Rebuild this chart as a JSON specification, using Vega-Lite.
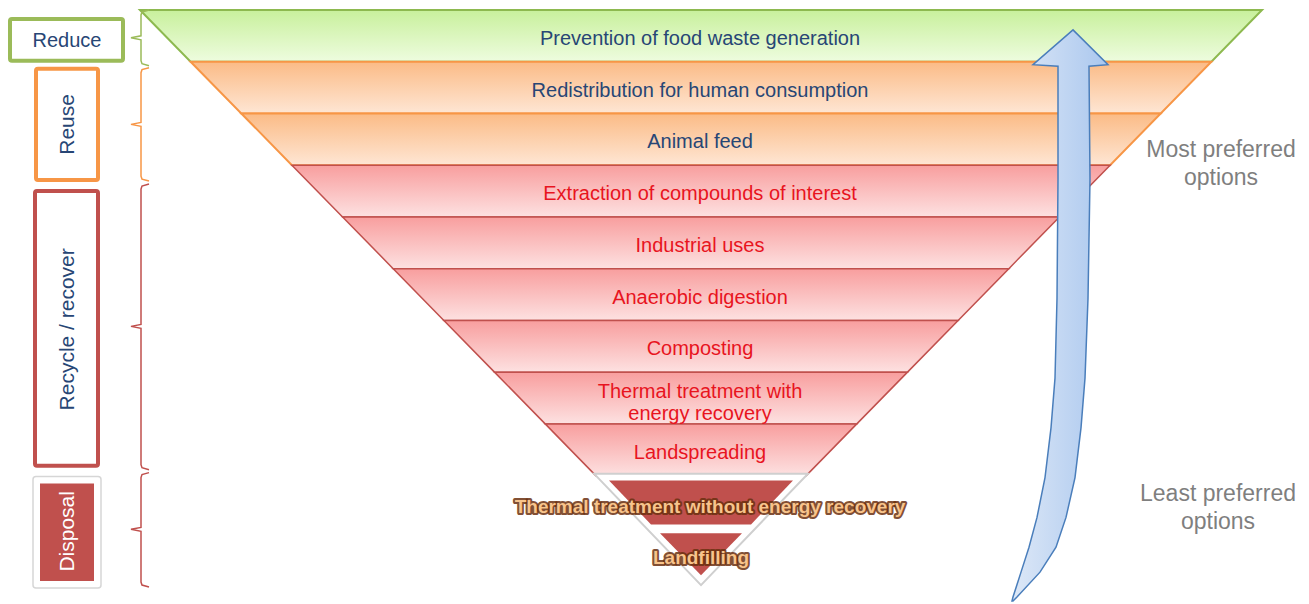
{
  "$schema": "https://vega.github.io/schema/vega-lite/v6.json",
  "width": 1309,
  "height": 604,
  "padding": 0,
  "autosize": {"type": "fit", "contains": "padding"},
  "background": "white",
  "config": {"view": {"stroke": null}, "text": {"font": "Liberation Sans"}},
  "datasets": {
    "bands": [
      {"band": "b1", "grp": "g", "y": 10, "xl": 140, "xr": 1262},
      {"band": "b1", "grp": "g", "y": 62, "xl": 190.6, "xr": 1211.4},
      {"band": "b2", "grp": "o", "y": 62, "xl": 190.6, "xr": 1211.4},
      {"band": "b2", "grp": "o", "y": 114, "xl": 241.3, "xr": 1160.7},
      {"band": "b3", "grp": "o", "y": 114, "xl": 241.3, "xr": 1160.7},
      {"band": "b3", "grp": "o", "y": 166, "xl": 291.9, "xr": 1110.1},
      {"band": "b4", "grp": "r", "y": 166, "xl": 291.9, "xr": 1110.1},
      {"band": "b4", "grp": "r", "y": 218, "xl": 342.6, "xr": 1059.4},
      {"band": "b5", "grp": "r", "y": 218, "xl": 342.6, "xr": 1059.4},
      {"band": "b5", "grp": "r", "y": 270, "xl": 393.2, "xr": 1008.8},
      {"band": "b6", "grp": "r", "y": 270, "xl": 393.2, "xr": 1008.8},
      {"band": "b6", "grp": "r", "y": 322, "xl": 443.9, "xr": 958.1},
      {"band": "b7", "grp": "r", "y": 322, "xl": 443.9, "xr": 958.1},
      {"band": "b7", "grp": "r", "y": 374, "xl": 494.5, "xr": 907.5},
      {"band": "b8", "grp": "r", "y": 374, "xl": 494.5, "xr": 907.5},
      {"band": "b8", "grp": "r", "y": 426, "xl": 545.2, "xr": 856.8},
      {"band": "b9", "grp": "r", "y": 426, "xl": 545.2, "xr": 856.8},
      {"band": "b9", "grp": "r", "y": 478, "xl": 595.8, "xr": 806.2}
    ],
    "disp": [
      {"part": "w", "y": 476, "xl": 594, "xr": 808},
      {"part": "w", "y": 588, "xl": 701, "xr": 701},
      {"part": "t", "y": 483, "xl": 609, "xr": 793},
      {"part": "t", "y": 527, "xl": 651, "xr": 751},
      {"part": "l", "y": 536, "xl": 660, "xr": 742},
      {"part": "l", "y": 578, "xl": 701, "xr": 701}
    ],
    "arrow": [
      {"y": 30, "xl": 1073, "xr": 1073},
      {"y": 65, "xl": 1033, "xr": 1108},
      {"y": 66.5, "xl": 1058, "xr": 1089},
      {"y": 180, "xl": 1058, "xr": 1090},
      {"y": 300, "xl": 1057, "xr": 1088},
      {"y": 380, "xl": 1055, "xr": 1085},
      {"y": 430, "xl": 1051, "xr": 1081},
      {"y": 480, "xl": 1045, "xr": 1075},
      {"y": 520, "xl": 1037, "xr": 1066},
      {"y": 550, "xl": 1029, "xr": 1056},
      {"y": 575, "xl": 1021, "xr": 1040},
      {"y": 600, "xl": 1013, "xr": 1017},
      {"y": 604, "xl": 1012, "xr": 1013}
    ],
    "labels": [
      {"t": "Prevention of food waste generation", "x": 700, "y": 39, "g": "n"},
      {"t": "Redistribution for human consumption", "x": 700, "y": 91, "g": "n"},
      {"t": "Animal feed", "x": 700, "y": 143, "g": "n"},
      {"t": "Extraction of compounds of interest", "x": 700, "y": 195, "g": "r"},
      {"t": "Industrial uses", "x": 700, "y": 247, "g": "r"},
      {"t": "Anaerobic digestion", "x": 700, "y": 299, "g": "r"},
      {"t": "Composting", "x": 700, "y": 351, "g": "r"},
      {"t": "Thermal treatment with\nenergy recovery", "x": 700, "y": 394, "g": "r"},
      {"t": "Landspreading", "x": 700, "y": 455, "g": "r"}
    ],
    "dlabels": [
      {"t": "Thermal treatment without energy recovery", "x": 710, "y": 510},
      {"t": "Landfilling", "x": 701, "y": 561}
    ],
    "boxes": [
      {"b": "Reduce", "x": 10, "x2": 123, "y": 19, "y2": 61},
      {"b": "Reuse", "x": 36, "x2": 98, "y": 69, "y2": 181},
      {"b": "Recycle", "x": 35, "x2": 98, "y": 192, "y2": 468}
    ],
    "dbox": [
      {"p": "outer", "x": 33, "x2": 101, "y": 479, "y2": 591},
      {"p": "inner", "x": 40, "x2": 94, "y": 486, "y2": 584}
    ],
    "btext": [
      {"t": "Reuse", "x": 68, "y": 125, "g": "n"},
      {"t": "Recycle / recover", "x": 68, "y": 331, "g": "n"},
      {"t": "Disposal", "x": 68, "y": 534, "g": "w"}
    ],
    "braces": [
      {"b": "reduce", "o": 1, "x": 149, "y": 10}, {"b": "reduce", "o": 2, "x": 142, "y": 12}, {"b": "reduce", "o": 3, "x": 141, "y": 15},
      {"b": "reduce", "o": 4, "x": 141, "y": 36}, {"b": "reduce", "o": 5, "x": 131, "y": 38}, {"b": "reduce", "o": 6, "x": 141, "y": 40},
      {"b": "reduce", "o": 7, "x": 141, "y": 61}, {"b": "reduce", "o": 8, "x": 142, "y": 64}, {"b": "reduce", "o": 9, "x": 149, "y": 66},
      {"b": "reuse", "o": 1, "x": 149, "y": 68}, {"b": "reuse", "o": 2, "x": 142, "y": 70}, {"b": "reuse", "o": 3, "x": 141, "y": 73},
      {"b": "reuse", "o": 4, "x": 141, "y": 123}, {"b": "reuse", "o": 5, "x": 131, "y": 125}, {"b": "reuse", "o": 6, "x": 141, "y": 127},
      {"b": "reuse", "o": 7, "x": 141, "y": 177}, {"b": "reuse", "o": 8, "x": 142, "y": 180}, {"b": "reuse", "o": 9, "x": 149, "y": 182},
      {"b": "recycle", "o": 1, "x": 149, "y": 185}, {"b": "recycle", "o": 2, "x": 142, "y": 187}, {"b": "recycle", "o": 3, "x": 141, "y": 190},
      {"b": "recycle", "o": 4, "x": 141, "y": 326}, {"b": "recycle", "o": 5, "x": 131, "y": 328}, {"b": "recycle", "o": 6, "x": 141, "y": 330},
      {"b": "recycle", "o": 7, "x": 141, "y": 467}, {"b": "recycle", "o": 8, "x": 142, "y": 470}, {"b": "recycle", "o": 9, "x": 149, "y": 472},
      {"b": "disposal", "o": 1, "x": 149, "y": 475}, {"b": "disposal", "o": 2, "x": 142, "y": 477}, {"b": "disposal", "o": 3, "x": 141, "y": 480},
      {"b": "disposal", "o": 4, "x": 141, "y": 530}, {"b": "disposal", "o": 5, "x": 131, "y": 532}, {"b": "disposal", "o": 6, "x": 141, "y": 534},
      {"b": "disposal", "o": 7, "x": 141, "y": 585}, {"b": "disposal", "o": 8, "x": 142, "y": 588}, {"b": "disposal", "o": 9, "x": 149, "y": 590}
    ],
    "side": [
      {"t": "Most preferred\noptions", "x": 1221, "y": 151},
      {"t": "Least preferred\noptions", "x": 1218, "y": 496}
    ]
  },
  "layer": [
    {
      "data": {"name": "bands"},
      "transform": [{"filter": "datum.grp === 'g'"}],
      "mark": {"type": "area", "stroke": "#8db94f", "strokeWidth": 2,
        "color": {"gradient": "linear", "x1": 0, "y1": 0, "x2": 0, "y2": 1,
          "stops": [{"offset": 0, "color": "#c8f09c"}, {"offset": 1, "color": "#eefcdf"}]}},
      "encoding": {
        "y": {"field": "y", "type": "quantitative", "scale": {"domain": [0, 604], "nice": false, "zero": false, "reverse": true}, "axis": null},
        "x": {"field": "xl", "type": "quantitative", "scale": {"domain": [0, 1309], "nice": false, "zero": false}, "axis": null},
        "x2": {"field": "xr"},
        "detail": {"field": "band"}
      }
    },
    {
      "data": {"name": "bands"},
      "transform": [{"filter": "datum.grp === 'o'"}],
      "mark": {"type": "area", "stroke": "#f79646", "strokeWidth": 2,
        "color": {"gradient": "linear", "x1": 0, "y1": 0, "x2": 0, "y2": 1,
          "stops": [{"offset": 0, "color": "#fbbb86"}, {"offset": 1, "color": "#fee6d4"}]}},
      "encoding": {
        "y": {"field": "y", "type": "quantitative", "scale": {"domain": [0, 604], "nice": false, "zero": false, "reverse": true}, "axis": null},
        "x": {"field": "xl", "type": "quantitative", "scale": {"domain": [0, 1309], "nice": false, "zero": false}, "axis": null},
        "x2": {"field": "xr"},
        "detail": {"field": "band"}
      }
    },
    {
      "data": {"name": "bands"},
      "transform": [{"filter": "datum.grp === 'r'"}],
      "mark": {"type": "area", "stroke": "#c0504d", "strokeWidth": 1.5,
        "color": {"gradient": "linear", "x1": 0, "y1": 0, "x2": 0, "y2": 1,
          "stops": [{"offset": 0, "color": "#f89e9e"}, {"offset": 1, "color": "#fde1e1"}]}},
      "encoding": {
        "y": {"field": "y", "type": "quantitative", "scale": {"domain": [0, 604], "nice": false, "zero": false, "reverse": true}, "axis": null},
        "x": {"field": "xl", "type": "quantitative", "scale": {"domain": [0, 1309], "nice": false, "zero": false}, "axis": null},
        "x2": {"field": "xr"},
        "detail": {"field": "band"}
      }
    },
    {
      "data": {"name": "disp"},
      "transform": [{"filter": "datum.part === 'w'"}],
      "mark": {"type": "area", "color": "white", "stroke": "#cfcfcf", "strokeWidth": 2},
      "encoding": {
        "y": {"field": "y", "type": "quantitative", "scale": {"domain": [0, 604], "nice": false, "zero": false, "reverse": true}, "axis": null},
        "x": {"field": "xl", "type": "quantitative", "scale": {"domain": [0, 1309], "nice": false, "zero": false}, "axis": null},
        "x2": {"field": "xr"},
        "detail": {"field": "part"}
      }
    },
    {
      "data": {"name": "disp"},
      "transform": [{"filter": "datum.part !== 'w'"}],
      "mark": {"type": "area", "color": "#c0504d"},
      "encoding": {
        "y": {"field": "y", "type": "quantitative", "scale": {"domain": [0, 604], "nice": false, "zero": false, "reverse": true}, "axis": null},
        "x": {"field": "xl", "type": "quantitative", "scale": {"domain": [0, 1309], "nice": false, "zero": false}, "axis": null},
        "x2": {"field": "xr"},
        "detail": {"field": "part"}
      }
    },
    {
      "data": {"name": "arrow"},
      "mark": {"type": "area", "stroke": "#4a7ebb", "strokeWidth": 1.5,
        "color": {"gradient": "linear", "x1": 0, "y1": 0, "x2": 1, "y2": 0,
          "stops": [{"offset": 0, "color": "#dde8f7"}, {"offset": 1, "color": "#aac7ee"}]}},
      "encoding": {
        "y": {"field": "y", "type": "quantitative", "scale": {"domain": [0, 604], "nice": false, "zero": false, "reverse": true}, "axis": null},
        "x": {"field": "xl", "type": "quantitative", "scale": {"domain": [0, 1309], "nice": false, "zero": false}, "axis": null},
        "x2": {"field": "xr"}
      }
    },
    {
      "data": {"name": "labels"},
      "transform": [{"filter": "datum.g === 'n'"}],
      "mark": {"type": "text", "fontSize": 20, "color": "#274675", "baseline": "middle", "align": "center", "lineBreak": "\n", "lineHeight": 22},
      "encoding": {
        "y": {"field": "y", "type": "quantitative", "scale": {"domain": [0, 604], "nice": false, "zero": false, "reverse": true}, "axis": null},
        "x": {"field": "x", "type": "quantitative", "scale": {"domain": [0, 1309], "nice": false, "zero": false}, "axis": null},
        "text": {"field": "t"}
      }
    },
    {
      "data": {"name": "labels"},
      "transform": [{"filter": "datum.g === 'r'"}],
      "mark": {"type": "text", "fontSize": 20, "color": "#e8141e", "baseline": "middle", "align": "center", "lineBreak": "\n", "lineHeight": 22},
      "encoding": {
        "y": {"field": "y", "type": "quantitative", "scale": {"domain": [0, 604], "nice": false, "zero": false, "reverse": true}, "axis": null},
        "x": {"field": "x", "type": "quantitative", "scale": {"domain": [0, 1309], "nice": false, "zero": false}, "axis": null},
        "text": {"field": "t"}
      }
    },
    {
      "data": {"name": "dlabels"},
      "mark": {"type": "text", "fontSize": 19, "fontWeight": "bold", "color": "#6b3010", "stroke": "#6b3010", "strokeWidth": 4, "strokeOpacity": 0.85, "strokeJoin": "round", "baseline": "middle", "align": "center"},
      "encoding": {
        "y": {"field": "y", "type": "quantitative", "scale": {"domain": [0, 604], "nice": false, "zero": false, "reverse": true}, "axis": null},
        "x": {"field": "x", "type": "quantitative", "scale": {"domain": [0, 1309], "nice": false, "zero": false}, "axis": null},
        "text": {"field": "t"}
      }
    },
    {
      "data": {"name": "dlabels"},
      "mark": {"type": "text", "fontSize": 19, "fontWeight": "bold", "color": "#f8c48c", "baseline": "middle", "align": "center"},
      "encoding": {
        "y": {"field": "y", "type": "quantitative", "scale": {"domain": [0, 604], "nice": false, "zero": false, "reverse": true}, "axis": null},
        "x": {"field": "x", "type": "quantitative", "scale": {"domain": [0, 1309], "nice": false, "zero": false}, "axis": null},
        "text": {"field": "t"}
      }
    },
    {
      "data": {"name": "boxes"},
      "transform": [{"filter": "datum.b === 'Reduce'"}],
      "mark": {"type": "rect", "fill": "white", "stroke": "#9bbb59", "strokeWidth": 4, "cornerRadius": 2},
      "encoding": {
        "y": {"field": "y", "type": "quantitative", "scale": {"domain": [0, 604], "nice": false, "zero": false, "reverse": true}, "axis": null},
        "y2": {"field": "y2"},
        "x": {"field": "x", "type": "quantitative", "scale": {"domain": [0, 1309], "nice": false, "zero": false}, "axis": null},
        "x2": {"field": "x2"}
      }
    },
    {
      "data": {"name": "boxes"},
      "transform": [{"filter": "datum.b === 'Reuse'"}],
      "mark": {"type": "rect", "fill": "white", "stroke": "#f79646", "strokeWidth": 4, "cornerRadius": 2},
      "encoding": {
        "y": {"field": "y", "type": "quantitative", "scale": {"domain": [0, 604], "nice": false, "zero": false, "reverse": true}, "axis": null},
        "y2": {"field": "y2"},
        "x": {"field": "x", "type": "quantitative", "scale": {"domain": [0, 1309], "nice": false, "zero": false}, "axis": null},
        "x2": {"field": "x2"}
      }
    },
    {
      "data": {"name": "boxes"},
      "transform": [{"filter": "datum.b === 'Recycle'"}],
      "mark": {"type": "rect", "fill": "white", "stroke": "#c0504d", "strokeWidth": 4, "cornerRadius": 2},
      "encoding": {
        "y": {"field": "y", "type": "quantitative", "scale": {"domain": [0, 604], "nice": false, "zero": false, "reverse": true}, "axis": null},
        "y2": {"field": "y2"},
        "x": {"field": "x", "type": "quantitative", "scale": {"domain": [0, 1309], "nice": false, "zero": false}, "axis": null},
        "x2": {"field": "x2"}
      }
    },
    {
      "data": {"name": "dbox"},
      "transform": [{"filter": "datum.p === 'outer'"}],
      "mark": {"type": "rect", "fill": "white", "stroke": "#d6d6d6", "strokeWidth": 1.5, "cornerRadius": 3},
      "encoding": {
        "y": {"field": "y", "type": "quantitative", "scale": {"domain": [0, 604], "nice": false, "zero": false, "reverse": true}, "axis": null},
        "y2": {"field": "y2"},
        "x": {"field": "x", "type": "quantitative", "scale": {"domain": [0, 1309], "nice": false, "zero": false}, "axis": null},
        "x2": {"field": "x2"}
      }
    },
    {
      "data": {"name": "dbox"},
      "transform": [{"filter": "datum.p === 'inner'"}],
      "mark": {"type": "rect", "fill": "#c0504d"},
      "encoding": {
        "y": {"field": "y", "type": "quantitative", "scale": {"domain": [0, 604], "nice": false, "zero": false, "reverse": true}, "axis": null},
        "y2": {"field": "y2"},
        "x": {"field": "x", "type": "quantitative", "scale": {"domain": [0, 1309], "nice": false, "zero": false}, "axis": null},
        "x2": {"field": "x2"}
      }
    },
    {
      "data": {"values": [{"t": "Reduce", "x": 67, "y": 41}]},
      "mark": {"type": "text", "fontSize": 20, "color": "#274675", "baseline": "middle", "align": "center"},
      "encoding": {
        "y": {"field": "y", "type": "quantitative", "scale": {"domain": [0, 604], "nice": false, "zero": false, "reverse": true}, "axis": null},
        "x": {"field": "x", "type": "quantitative", "scale": {"domain": [0, 1309], "nice": false, "zero": false}, "axis": null},
        "text": {"field": "t"}
      }
    },
    {
      "data": {"name": "btext"},
      "transform": [{"filter": "datum.g === 'n'"}],
      "mark": {"type": "text", "fontSize": 21, "color": "#274675", "baseline": "middle", "align": "center", "angle": 270},
      "encoding": {
        "y": {"field": "y", "type": "quantitative", "scale": {"domain": [0, 604], "nice": false, "zero": false, "reverse": true}, "axis": null},
        "x": {"field": "x", "type": "quantitative", "scale": {"domain": [0, 1309], "nice": false, "zero": false}, "axis": null},
        "text": {"field": "t"}
      }
    },
    {
      "data": {"name": "btext"},
      "transform": [{"filter": "datum.g === 'w'"}],
      "mark": {"type": "text", "fontSize": 21, "color": "white", "baseline": "middle", "align": "center", "angle": 270},
      "encoding": {
        "y": {"field": "y", "type": "quantitative", "scale": {"domain": [0, 604], "nice": false, "zero": false, "reverse": true}, "axis": null},
        "x": {"field": "x", "type": "quantitative", "scale": {"domain": [0, 1309], "nice": false, "zero": false}, "axis": null},
        "text": {"field": "t"}
      }
    },
    {
      "data": {"name": "braces"},
      "transform": [{"filter": "datum.b === 'reduce'"}],
      "mark": {"type": "line", "color": "#9bbb59", "strokeWidth": 1.5},
      "encoding": {
        "y": {"field": "y", "type": "quantitative", "scale": {"domain": [0, 604], "nice": false, "zero": false, "reverse": true}, "axis": null},
        "x": {"field": "x", "type": "quantitative", "scale": {"domain": [0, 1309], "nice": false, "zero": false}, "axis": null},
        "order": {"field": "o"}
      }
    },
    {
      "data": {"name": "braces"},
      "transform": [{"filter": "datum.b === 'reuse'"}],
      "mark": {"type": "line", "color": "#f79646", "strokeWidth": 1.5},
      "encoding": {
        "y": {"field": "y", "type": "quantitative", "scale": {"domain": [0, 604], "nice": false, "zero": false, "reverse": true}, "axis": null},
        "x": {"field": "x", "type": "quantitative", "scale": {"domain": [0, 1309], "nice": false, "zero": false}, "axis": null},
        "order": {"field": "o"}
      }
    },
    {
      "data": {"name": "braces"},
      "transform": [{"filter": "datum.b === 'recycle' || datum.b === 'disposal'"}],
      "mark": {"type": "line", "color": "#c0504d", "strokeWidth": 1.5},
      "encoding": {
        "y": {"field": "y", "type": "quantitative", "scale": {"domain": [0, 604], "nice": false, "zero": false, "reverse": true}, "axis": null},
        "x": {"field": "x", "type": "quantitative", "scale": {"domain": [0, 1309], "nice": false, "zero": false}, "axis": null},
        "order": {"field": "o"},
        "detail": {"field": "b"}
      }
    },
    {
      "data": {"name": "side"},
      "mark": {"type": "text", "fontSize": 23, "color": "#7f7f7f", "baseline": "middle", "align": "center", "lineBreak": "\n", "lineHeight": 28},
      "encoding": {
        "y": {"field": "y", "type": "quantitative", "scale": {"domain": [0, 604], "nice": false, "zero": false, "reverse": true}, "axis": null},
        "x": {"field": "x", "type": "quantitative", "scale": {"domain": [0, 1309], "nice": false, "zero": false}, "axis": null},
        "text": {"field": "t"}
      }
    }
  ]
}
